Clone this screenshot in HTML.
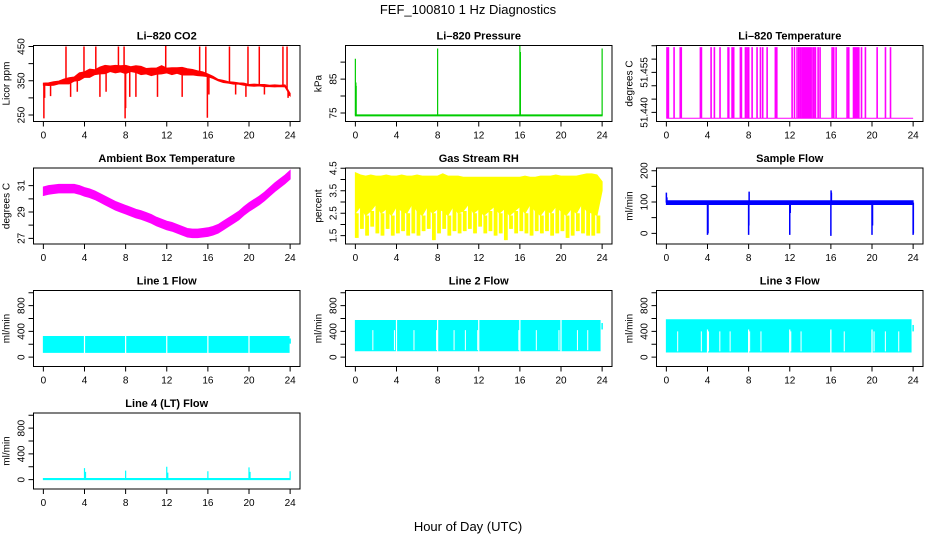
<!DOCTYPE html>
<html><head><meta charset="utf-8"><style>
html,body{margin:0;padding:0;background:#fff;}
svg{display:block;font-family:"Liberation Sans",sans-serif;}
</style></head><body>
<svg id="chart" width="936" height="540" viewBox="0 0 936 540" xmlns="http://www.w3.org/2000/svg">
<rect x="0" y="0" width="936" height="540" fill="#fff"/>
<text x="468" y="14" font-size="13" text-anchor="middle">FEF_100810  1 Hz Diagnostics</text>
<text x="468" y="531" font-size="13" text-anchor="middle">Hour of Day (UTC)</text>
</svg>
<script>
const xTicks = [0,4,8,12,16,20,24];
const binHours = [0,0.5,1,1.5,2,2.5,3,3.5,4,4.5,5,5.5,6,6.5,7,7.5,8,8.5,9,9.5,10,10.5,11,11.5,12,12.5,13,13.5,14,14.5,15,15.5,16,16.5,17,17.5,18,18.5,19,19.5,20,20.5,21,21.5,22,22.5,23,23.5,24];

// CO2
const co2Base = [340,340,342,345,348,350,355,362,368,372,375,380,383,385,384,385,383,384,384,380,378,376,378,382,380,378,380,378,376,375,372,370,366,360,352,348,345,343,342,340,337,337,337,336,335,335,335,335,310];
const co2Amp = [3,4,5,4,7,9,6,11,8,12,7,10,12,8,11,9,12,7,10,12,8,11,9,12,7,10,8,11,9,8,7,6,4,3,2,3,2,3,2,3,2,3,2,3,2,3,2,3,3];
const co2SpikeHours = [2.2,3.95,5.1,7.3,7.85,11.9,15.2,15.8,18.1,19.9,21.0,23.3,23.7,0.05,0.12,0.7,2.65,3.3,5.5,6.1,7.95,8.0,8.4,9.0,11.1,13.5,15.95,16.1,18.7,19.7,21.5,23.8,23.9];
const co2SpikeVals = [450,450,450,450,450,452,450,450,450,450,450,450,450,240,300,305,303,318,303,318,240,270,303,303,303,303,242,310,310,303,310,300,305];

// Pressure
const presBase = 74.3;
const presSpikeHours = [0,0.05,0.08,8,16,16.05,24];
const presSpikeVals = [91,84,83,94,94.8,93,94];

// Li-820 temperature
const tempLow = 51.4378;
const tempHigh = 51.4645;
const tempSpikeHours = [0.06,0.12,0.2,0.75,1.35,1.45,3.31,3.41,4.35,4.67,5.22,6.0,6.07,6.39,6.5,6.55,7.2,7.3,7.69,7.85,8.01,8.34,8.82,9.15,9.37,9.8,10.6,10.68,10.74,12.23,12.46,12.71,12.88,13.04,13.2,13.3,13.36,13.45,13.53,13.62,13.72,13.85,13.95,14.01,14.17,14.34,14.5,14.76,14.95,16.12,16.28,16.51,17.58,17.74,18.2,18.33,18.46,18.59,18.72,18.98,19.36,20.5,21.31,21.8];

// Ambient box temperature
const ambCenter = [30.6,30.7,30.75,30.8,30.8,30.8,30.8,30.7,30.55,30.45,30.3,30.1,29.9,29.7,29.5,29.35,29.2,29.05,28.9,28.8,28.65,28.5,28.3,28.15,28.0,27.9,27.75,27.6,27.45,27.4,27.4,27.45,27.5,27.6,27.75,28.0,28.25,28.5,28.75,29.1,29.4,29.65,29.9,30.2,30.55,30.9,31.2,31.5,31.85];
const ambSpread = [0.3, 0.35];

// Gas stream RH
const rhHi = [4.3,4.2,4.15,4.2,4.15,4.15,4.2,4.15,4.15,4.2,4.15,4.15,4.2,4.15,4.15,4.15,4.15,4.25,4.15,4.15,4.15,4.1,4.1,4.1,4.1,4.1,4.1,4.1,4.1,4.1,4.1,4.1,4.1,4.15,4.1,4.1,4.15,4.15,4.15,4.2,4.15,4.15,4.15,4.15,4.2,4.25,4.25,4.2,3.9];
const rhBody = [2.5,2.8,2.4,2.6,2.9,2.5,2.7,2.4,2.8,2.6,2.5,2.9,2.6,2.4,2.8,2.5,2.7,2.6,2.4,2.8,2.5,2.6,2.9,2.5,2.7,2.4,2.6,2.8,2.5,2.7,2.4,2.6,2.8,2.5,2.9,2.6,2.4,2.7,2.5,2.8,2.6,2.4,2.7,2.5,2.9,2.6,2.5,2.4,3.5];
const rhLo = [1.4,1.8,1.5,1.9,1.6,1.5,1.8,1.5,1.6,1.7,1.5,1.6,1.5,1.7,1.8,1.3,1.6,1.8,1.5,1.7,1.6,1.7,1.8,1.6,1.9,1.6,1.7,1.5,1.6,1.3,1.8,1.6,1.7,1.6,1.5,1.7,1.6,1.7,1.5,1.6,1.7,1.4,1.5,1.7,1.6,1.5,1.5,1.6,3.5];

// Sample flow
const sfLow = 92;
const sfHigh = 104;
const sfSpikeHours = [0,0.05,4,4.05,8,8.02,8.05,12,12.05,16,16.02,16.05,20,20.05,24,24.02];
const sfSpikeVals = [130,115,-5,0,-5,25,133,-5,65,-8,137,130,-5,25,-5,0];

// Line flows
const flowGapHours = [4,8,12,16,20];
const l1Lo = 75, l1Hi = 320, l1End = 250;
const l2Lo = 100, l2Hi = 570, l2End = 480;
const l2WhiteHours = [1.7,3.8,5.7,7.9,9.6,10.7,11.9,15.9,17.6,19.8,21.6,22.6];
const l3Lo = 80, l3Hi = 580, l3End = 450;
const l3WhiteHours = [1.1,3.4,4.1,5.2,6.2,8.1,9.2,12.1,13.1,16.0,17.3,20.2,21.3,22.6];
const l4Lo = 0, l4Hi = 18;
const l4SpikeHours = [4,4.1,8,12,12.1,16,20,20.1,24];
const l4SpikeVals = [180,120,140,200,110,130,190,120,130];

const NS = "http://www.w3.org/2000/svg";
const svg = document.getElementById('chart');
const colLeft = [33.5,345.5,656.5], rowTop = [45.5,168,290.5,413], boxW = 266.5, boxH = 76;

function mk(tag, attrs, parent){
  const el = document.createElementNS(NS, tag);
  for (const k in attrs) el.setAttribute(k, attrs[k]);
  (parent || svg).appendChild(el);
  return el;
}
function interp(xs, ys, h){
  if (h <= xs[0]) return ys[0];
  for (let i=1;i<xs.length;i++){ if (h <= xs[i]) { const t=(h-xs[i-1])/(xs[i]-xs[i-1]); return ys[i-1]+t*(ys[i]-ys[i-1]); } }
  return ys[ys.length-1];
}

function panel(p){
  const L = colLeft[p.col], T = rowTop[p.row];
  const g = mk('g', {});
  
  
  const sx = h => L + (h + 0.96) / 25.92 * boxW;
  const sy = v => T + boxH - (v - p.ylim[0]) / (p.ylim[1] - p.ylim[0]) * boxH;
  const clip = mk('clipPath', {id: 'clip-' + p.name}, g);
  mk('rect', {x:L, y:T, width:boxW, height:boxH}, clip);
  const plot = mk('g', {'clip-path': 'url(#clip-' + p.name + ')'}, g);
  
  
  const t = mk('text', {x: L + boxW/2, y: T - 6, 'font-size': 11, 'font-weight': 'bold', 'text-anchor': 'middle'}, g);
  
  
  t.textContent = p.title;
  const yl = mk('text', {x: 0, y: 0, 'font-size': 10, 'text-anchor': 'middle', transform: 'translate(' + (L - 24) + ',' + (T + boxH/2) + ') rotate(-90)'}, g);
  
  
  yl.textContent = p.ylab;
  const xa = mk('path', {d: 'M' + sx(0) + ',' + (T+boxH) + 'H' + sx(24) + xTicks.map(h => 'M' + sx(h) + ',' + (T+boxH) + 'v5').join(''), stroke:'#000', fill:'none'}, g);
  
  
  xTicks.forEach(h => {
    const tl = mk('text', {x: sx(h), y: T + boxH + 17, 'font-size': 10, 'text-anchor': 'middle'}, g);
    
    
    tl.textContent = h;
  });
  const ya = mk('path', {d: 'M' + L + ',' + sy(p.ticks[0]) + 'V' + sy(p.ticks[p.ticks.length-1]) + p.ticks.map(v => 'M' + L + ',' + sy(v) + 'h-5').join(''), stroke:'#000', fill:'none'}, g);
  
  
  p.labels.forEach(v => {
    const tl = mk('text', {x: 0, y: 0, 'font-size': 10, 'text-anchor': 'middle', transform: 'translate(' + (L - 9) + ',' + sy(v) + ') rotate(-90)'}, g);
    
    
    tl.textContent = p.fmt ? p.fmt(v) : v;
  });
  const box = mk('rect', {x: L, y: T, width: boxW, height: boxH, fill: 'none', stroke: '#000'}, g);
  
  
  return {sx, sy, plot};
}
function band(P, xs, lo, hi, color, name){
  let d = 'M' + xs.map((h,i) => P.sx(h) + ',' + P.sy(hi[i])).join('L');
  d += 'L' + xs.map((h,i) => P.sx(h) + ',' + P.sy(lo[i])).reverse().join('L') + 'Z';
  const el = mk('path', {d, fill: color, stroke: color, 'stroke-width': 1}, P.plot);
  
  
}
function vlines(P, hours, from, to, color, w, name){
  const d = hours.map((h,i) => 'M' + P.sx(h) + ',' + P.sy(from[i]) + 'V' + P.sy(to[i])).join('');
  const el = mk('path', {d, stroke: color, 'stroke-width': w, fill: 'none'}, P.plot);
  
  
}

// Panel 1: CO2
let P = panel({name:'co2', col:0, row:0, title:'Li–820 CO2', ylab:'Licor ppm', ylim:[231,453], ticks:[250,300,350,400,450], labels:[250,350,450]});
band(P, binHours, co2Base.map((v,i)=>v-co2Amp[i]), co2Base.map((v,i)=>v+co2Amp[i]), '#ff0000', 'co2-series');
vlines(P, co2SpikeHours, co2SpikeHours.map(h=>interp(binHours,co2Base,h)), co2SpikeVals, '#ff0000', 1.5, 'co2-spikes');

// Panel 2: Pressure
P = panel({name:'pressure', col:1, row:0, title:'Li–820 Pressure', ylab:'kPa', ylim:[72.5,94.9], ticks:[75,80,85,90], labels:[75,85]});
band(P, [0,24], [presBase-0.15,presBase-0.15], [presBase+0.15,presBase+0.15], '#00cc00', 'pressure-series');
vlines(P, presSpikeHours, presSpikeHours.map(()=>presBase), presSpikeVals, '#00cc00', 1.2, 'pressure-spikes');

// Panel 3: Li-820 temperature
P = panel({name:'li820-temp', col:2, row:0, title:'Li–820 Temperature', ylab:'degrees C', ylim:[51.4366,51.4651], ticks:[51.44,51.445,51.45,51.455,51.46,51.465], labels:[51.44,51.455], fmt:v=>v.toFixed(3)});
band(P, [0,24], [tempLow,tempLow], [tempLow,tempLow], '#ff00ff', 'li820-temp-baseline');
vlines(P, tempSpikeHours, tempSpikeHours.map(()=>tempLow), tempSpikeHours.map(()=>tempHigh), '#ff00ff', 1.6, 'li820-temp-spikes');

// Panel 4: Ambient
P = panel({name:'ambient-temp', col:0, row:1, title:'Ambient Box Temperature', ylab:'degrees C', ylim:[26.57,32.34], ticks:[27,28,29,30,31], labels:[27,29,31]});
band(P, binHours, ambCenter.map(v=>v-ambSpread[1]), ambCenter.map(v=>v+ambSpread[0]), '#ff00ff', 'ambient-temp-series');

// Panel 5: RH
P = panel({name:'rh', col:1, row:1, title:'Gas Stream RH', ylab:'percent', ylim:[1.13,4.51], ticks:[1.5,2,2.5,3,3.5,4,4.5], labels:[1.5,2.5,3.5,4.5]});
band(P, binHours, rhBody, rhHi, '#ffff00', 'rh-series');
vlines(P, binHours.map(h=>h+0.2), rhBody, rhLo, '#ffff00', 2.5, 'rh-low-excursions');
vlines(P, binHours.map(h=>h+0.05), rhBody, rhLo, '#ffff00', 2, 'rh-low-excursions-2');

// Panel 6: Sample flow
P = panel({name:'sample-flow', col:2, row:1, title:'Sample Flow', ylab:'ml/min', ylim:[-34,208.6], ticks:[0,50,100,150,200], labels:[0,100,200]});
band(P, [0,24], [sfLow,sfLow], [sfHigh,sfHigh], '#0000ff', 'sample-flow-series');
vlines(P, sfSpikeHours, sfSpikeHours.map(()=>98), sfSpikeVals, '#0000ff', 1.5, 'sample-flow-spikes');

// Panels 7-10: Line flows
const flowYlim = [-145,1035], flowTicks = [0,200,400,600,800,1000], flowLabels = [0,400,800];
P = panel({name:'line1-flow', col:0, row:2, title:'Line 1 Flow', ylab:'ml/min', ylim:flowYlim, ticks:flowTicks, labels:flowLabels});
band(P, [0,23.9], [l1Lo,l1Lo], [l1Hi,l1Hi], '#00ffff', 'line1-flow-series');
vlines(P, flowGapHours, flowGapHours.map(()=>l1Lo-10), flowGapHours.map(()=>l1Hi+10), '#ffffff', 1.2, 'line1-flow-gaps');
vlines(P, [24], [l1End-40], [l1End+40], '#00ffff', 1.5, 'line1-flow-end');

P = panel({name:'line2-flow', col:1, row:2, title:'Line 2 Flow', ylab:'ml/min', ylim:flowYlim, ticks:flowTicks, labels:flowLabels});
band(P, [0,23.8], [l2Lo,l2Lo], [l2Hi,l2Hi], '#00ffff', 'line2-flow-series');
vlines(P, flowGapHours, flowGapHours.map(()=>l2Lo-10), flowGapHours.map(()=>l2Hi+10), '#ffffff', 1.2, 'line2-flow-gaps');
vlines(P, l2WhiteHours, l2WhiteHours.map(()=>l2Lo+10), l2WhiteHours.map(()=>l2Hi-150), '#ffffff', 1, 'line2-flow-white-lines');
vlines(P, [24], [l2End-50], [l2End+50], '#00ffff', 1.5, 'line2-flow-end');

P = panel({name:'line3-flow', col:2, row:2, title:'Line 3 Flow', ylab:'ml/min', ylim:flowYlim, ticks:flowTicks, labels:flowLabels});
band(P, [0,23.8], [l3Lo,l3Lo], [l3Hi,l3Hi], '#00ffff', 'line3-flow-series');
vlines(P, flowGapHours, flowGapHours.map(()=>l3Lo-10), flowGapHours.map(()=>l3Hi-150), '#ffffff', 1.2, 'line3-flow-gaps');
vlines(P, l3WhiteHours, l3WhiteHours.map(()=>l3Lo+10), l3WhiteHours.map(()=>l3Hi-180), '#ffffff', 1, 'line3-flow-white-lines');
vlines(P, [24], [l3End-50], [l3End+50], '#00ffff', 1.5, 'line3-flow-end');

P = panel({name:'line4-flow', col:0, row:3, title:'Line 4 (LT) Flow', ylab:'ml/min', ylim:flowYlim, ticks:flowTicks, labels:flowLabels});
band(P, [0,24], [l4Lo,l4Lo], [l4Hi,l4Hi], '#00ffff', 'line4-flow-series');
vlines(P, l4SpikeHours, l4SpikeHours.map(()=>l4Hi), l4SpikeVals, '#00ffff', 1.2, 'line4-flow-spikes');
</script>
</body></html>
